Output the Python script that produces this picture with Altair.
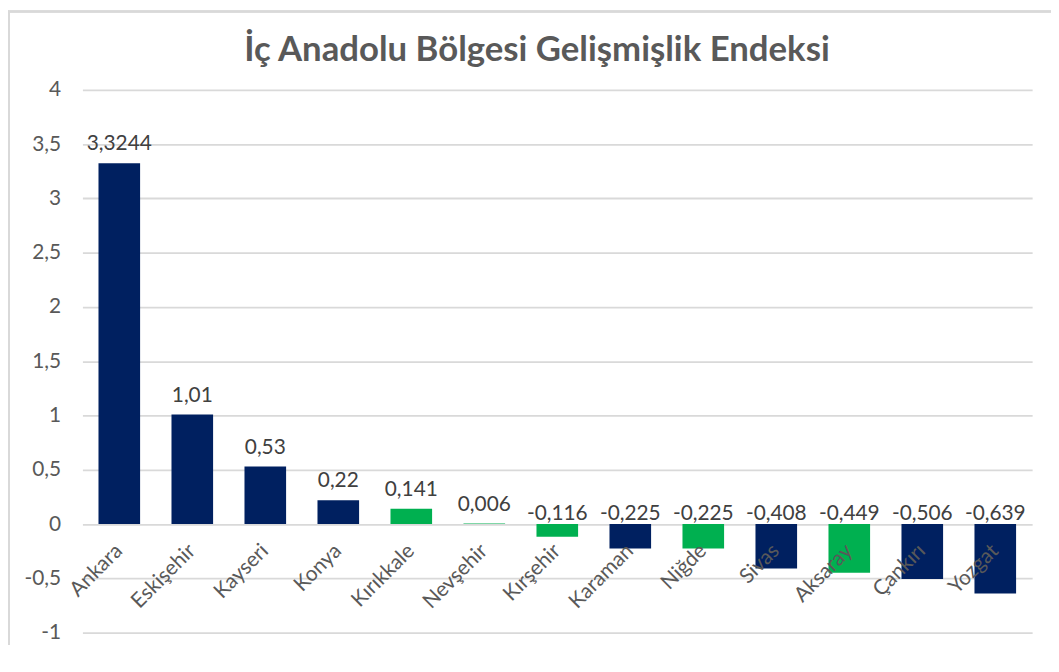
import altair as alt
import pandas as pd

title_text = "İç Anadolu Bölgesi Gelişmişlik Endeksi"
provinces = ["Ankara", "Eskişehir", "Kayseri", "Konya", "Kırıkkale", "Nevşehir", "Kırşehir",
             "Karaman", "Niğde", "Sivas", "Aksaray", "Çankırı", "Yozgat"]
values = [3.3244, 1.01, 0.53, 0.22, 0.141, 0.006, -0.116, -0.225, -0.225, -0.408, -0.449, -0.506, -0.639]
labels = ["3,3244", "1,01", "0,53", "0,22", "0,141", "0,006", "-0,116", "-0,225", "-0,225",
          "-0,408", "-0,449", "-0,506", "-0,639"]
groups = ["a", "a", "a", "a", "b", "b", "b", "a", "b", "a", "b", "a", "a"]
y_ticks = [-1, -0.5, 0, 0.5, 1, 1.5, 2, 2.5, 3, 3.5, 4]

df = pd.DataFrame({"il": provinces, "v": values, "lab": labels, "g": groups, "zero": [0] * len(provinces)})

FONT = "Lato"
W, H = 957, 547

xs = alt.X("il:N", sort=provinces,
           scale=alt.Scale(paddingInner=0.43, paddingOuter=0.22), axis=None)
ys = alt.Scale(domain=[-1, 4], nice=False)

bars = alt.Chart(df).mark_bar().encode(
    x=xs,
    y=alt.Y("v:Q", scale=ys, title=None,
            axis=alt.Axis(values=y_ticks, labelExpr="replace(toString(datum.value), '.', ',')",
                          grid=True, gridColor="#d9d9d9", gridWidth=1.8, domain=False, ticks=False,
                          labelPadding=22, labelFontSize=21, labelColor="#595959", labelFont=FONT)),
    y2=alt.Y2("zero:Q"),
    color=alt.Color("g:N", scale=alt.Scale(domain=["a", "b"], range=["#002060", "#00B050"]), legend=None),
)

pos_labels = alt.Chart(df).transform_filter("datum.v >= 0").mark_text(
    fontSize=21, color="#404040", font=FONT, baseline="middle", dy=-19
).encode(x=xs, y=alt.Y("v:Q", scale=ys), text="lab:N")

neg_labels = alt.Chart(df).transform_filter("datum.v < 0").mark_text(
    fontSize=21, color="#404040", font=FONT, baseline="middle", dy=-10
).encode(x=xs, y=alt.Y("zero:Q", scale=ys), text="lab:N")

cat_labels = alt.Chart(df).mark_text(
    fontSize=21, color="#595959", font=FONT, align="right", baseline="middle",
    angle=315, dx=-17, dy=17
).encode(x=xs, y=alt.Y("zero:Q", scale=ys), text="il:N")

title = alt.Chart(pd.DataFrame({"t": [title_text]})).mark_text(
    fontSize=35, font=FONT, fontWeight="bold", color="#595959", align="center", baseline="middle"
).encode(x=alt.value(458), y=alt.value(-40), text="t:N")

border = alt.Chart(df).mark_rect(fill=None, stroke="#d9d9d9", strokeWidth=1.5).encode(
    x=alt.value(-74), x2=alt.value(W + 40), y=alt.value(-79), y2=alt.value(H + 60)
)

chart = alt.layer(border, bars, pos_labels, neg_labels, cat_labels, title).properties(
    width=W, height=H,
    autosize=alt.AutoSizeParams(type="none"),
    padding={"left": 75, "top": 80, "right": 19, "bottom": 10},
).configure_view(stroke=None)

chart.save("out.html", embed_options={"renderer": "svg", "actions": False})
